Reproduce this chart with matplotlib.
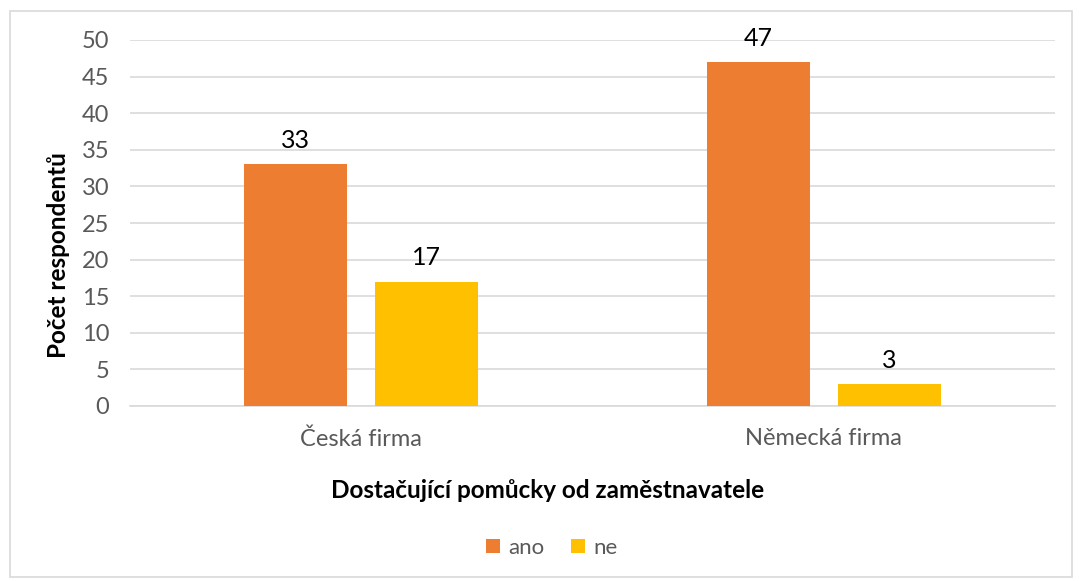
import matplotlib.pyplot as plt
import numpy as np
from matplotlib.patches import Rectangle

# data
categories = ["Česká firma", "Německá firma"]
ano = [33, 47]
ne = [17, 3]
series_names = ["ano", "ne"]
colors = ["#ED7D31", "#FFC000"]

plt.rcParams['font.family'] = ['Lato', 'DejaVu Sans']

fig = plt.figure(figsize=(10.79, 5.81), dpi=100)
ax = fig.add_axes([130/1079, 1 - 406/581, 925/1079, 366/581])

x = np.arange(len(categories))
w = 0.223
off = 0.142
b1 = ax.bar(x - off, ano, w, color=colors[0], label=series_names[0], zorder=3)
b2 = ax.bar(x + off, ne, w, color=colors[1], label=series_names[1], zorder=3)

for bars in (b1, b2):
    for r in bars:
        ax.text(r.get_x() + r.get_width()/2, r.get_height() + 1.7, f"{int(r.get_height())}",
                ha='center', va='bottom', fontsize=18, color='black')

ax.set_xlim(-0.5, 1.5)
ax.set_ylim(0, 50)
ax.set_yticks(range(0, 51, 5))
ax.set_xticks(x)
ax.set_xticklabels(categories)
ax.yaxis.grid(True, color='#d9d9d9', linewidth=1.2, zorder=0)
ax.set_axisbelow(True)
for s in ['top', 'right', 'left']:
    ax.spines[s].set_visible(False)
ax.spines['bottom'].set_color('#d9d9d9')
ax.spines['bottom'].set_linewidth(1.2)
ax.tick_params(axis='both', length=0, labelsize=17, colors='#595959')
ax.tick_params(axis='y', pad=15)
ax.tick_params(axis='x', pad=16)

fig.text(58/1079, 1 - 255/581, "Počet respondentů", rotation=90, ha='center', va='center',
         fontsize=17.5, fontweight='bold', color='black')
fig.text(548/1079, 1 - 490/581, "Dostačující pomůcky od zaměstnavatele", ha='center', va='center',
         fontsize=17.5, fontweight='bold', color='black')

fig.legend(loc='center', bbox_to_anchor=(552/1079, 1 - 548/581), ncol=2, frameon=False,
           fontsize=16, handlelength=0.6, handleheight=0.6, handletextpad=0.4, columnspacing=1.2,
           labelcolor='#595959')

fig.patches.append(Rectangle((10/1079, 1 - 577/581), 1062/1079, 566/581, transform=fig.transFigure,
                             fill=False, edgecolor='#d9d9d9', linewidth=1.2))

fig.savefig("out.png", dpi=100)
